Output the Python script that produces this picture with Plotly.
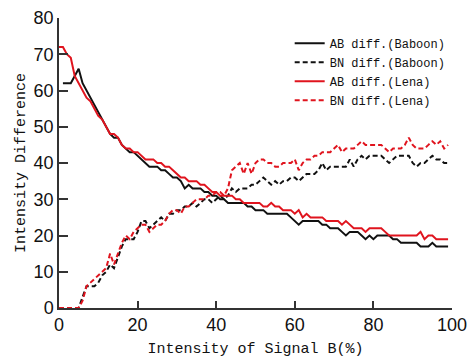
import plotly.graph_objects as go

x = list(range(0, 100))

ab_lena = [72, 72, 70, 69, 64, 62, 60, 58, 57, 55, 53, 52, 50, 48, 48, 47, 45, 44, 44, 43,
           43, 42, 41, 41, 41, 40, 40, 39, 39, 38, 37, 36, 36, 35, 35, 35, 34, 34, 33, 32,
           32, 31, 31, 31, 31, 30, 30, 29, 29, 29, 29, 29, 28, 28, 29, 28, 28, 27, 27, 27,
           26, 27, 25, 26, 25, 25, 25, 25, 24, 24, 24, 24, 23, 24, 23, 22, 22, 22, 21, 22,
           22, 22, 22, 21, 20, 20, 20, 20, 20, 20, 20, 20, 21, 19, 20, 20, 19, 19, 19, 19]

ab_baboon = [None, 62, 62, 62, 64, 66, 62, 60, 58, 56, 54, 52, 50, 48, 47, 47, 45, 44, 43, 43,
             42, 41, 40, 39, 39, 39, 38, 38, 37, 36, 36, 35, 33, 34, 33, 33, 33, 32, 32, 31,
             31, 30, 30, 29, 29, 29, 29, 29, 28, 28, 27, 27, 27, 26, 26, 26, 26, 26, 26, 25,
             24, 23, 24, 24, 24, 24, 24, 23, 23, 22, 22, 22, 21, 20, 21, 21, 21, 20, 19, 20,
             19, 20, 20, 20, 20, 19, 19, 18, 18, 18, 18, 18, 17, 17, 17, 18, 17, 17, 17, 17]

bn_baboon = [0, 0, 0, 0, 0, 0, 3, 6, 6, 6, 7, 9, 10, 12, 11, 14, 17, 19, 19, 19,
             21, 24, 24, 22, 23, 24, 25, 24, 26, 26, 27, 27, 28, 28, 29, 28, 29, 30, 30, 29,
             30, 31, 30, 31, 33, 32, 33, 33, 33, 34, 34, 35, 36, 35, 34, 35, 34, 35, 35, 36,
             36, 35, 36, 37, 37, 37, 38, 40, 38, 39, 39, 39, 39, 39, 41, 39, 41, 42, 41, 42,
             42, 42, 42, 41, 40, 41, 42, 42, 42, 42, 40, 39, 40, 40, 41, 42, 41, 41, 40, 40]

bn_lena = [0, 0, 0, 0, 0, 0, 2, 6, 7, 8, 9, 10, 11, 15, 12, 15, 18, 20, 19, 21,
           22, 23, 23, 21, 22, 23, 23, 24, 26, 27, 27, 26, 28, 28, 29, 30, 30, 30, 31, 31,
           32, 32, 31, 33, 38, 39, 40, 37, 40, 37, 40, 41, 41, 40, 40, 39, 39, 40, 40, 40,
           41, 38, 40, 41, 41, 42, 42, 43, 43, 43, 44, 45, 43, 44, 44, 44, 45, 46, 45, 45,
           45, 45, 45, 44, 43, 44, 44, 44, 45, 47, 45, 44, 44, 44, 45, 46, 45, 46, 44, 45]

series_names = ["AB diff.(Baboon)", "BN diff.(Baboon)", "AB diff.(Lena)", "BN diff.(Lena)"]
x_ticks = [0, 20, 40, 60, 80, 100]
y_ticks = [0, 10, 20, 30, 40, 50, 60, 70, 80]

RED = "#e0141e"
BLACK = "#111111"

fig = go.Figure()
fig.add_trace(go.Scatter(x=x, y=ab_baboon, name=series_names[0], mode="lines",
                         line=dict(color=BLACK, width=2)))
fig.add_trace(go.Scatter(x=x, y=bn_baboon, name=series_names[1], mode="lines",
                         line=dict(color=BLACK, width=2, dash="5px,3px")))
fig.add_trace(go.Scatter(x=x, y=ab_lena, name=series_names[2], mode="lines",
                         line=dict(color=RED, width=2)))
fig.add_trace(go.Scatter(x=x, y=bn_lena, name=series_names[3], mode="lines",
                         line=dict(color=RED, width=2, dash="5px,3px")))

tickfont = dict(family="Liberation Sans Narrow, Arial Narrow, Liberation Sans, Arial", size=18, color="#111")
monofont = "Liberation Mono, DejaVu Sans Mono, monospace"

fig.update_layout(
    width=468, height=358,
    margin=dict(l=59, r=16, t=18, b=50, autoexpand=False),
    paper_bgcolor="white", plot_bgcolor="white",
    showlegend=True,
    legend=dict(x=0.587, y=0.963, xanchor="left", yanchor="top",
                font=dict(family=monofont, size=12, color="#111"),
                bgcolor="rgba(0,0,0,0)", tracegroupgap=0, itemwidth=30),
    xaxis=dict(range=[0, 100], tickvals=x_ticks, ticks="inside", ticklen=7, tickwidth=1.5,
               tickcolor="#333", showline=True, linecolor="#333", linewidth=1.5,
               showgrid=False, zeroline=False, tickfont=tickfont, automargin=False,
               title=dict(text="Intensity of Signal B(%)", standoff=8,
                          font=dict(family=monofont, size=15, color="#111"))),
    yaxis=dict(range=[0, 80], tickvals=y_ticks, ticks="inside", ticklen=9, tickwidth=1.5,
               tickcolor="#333", showline=True, linecolor="#333", linewidth=1.5,
               showgrid=False, zeroline=False, tickfont=tickfont, automargin=False,
               title=dict(text="Intensity Difference", standoff=4,
                          font=dict(family=monofont, size=15, color="#111"))),
)

fig.write_html("out.html")
